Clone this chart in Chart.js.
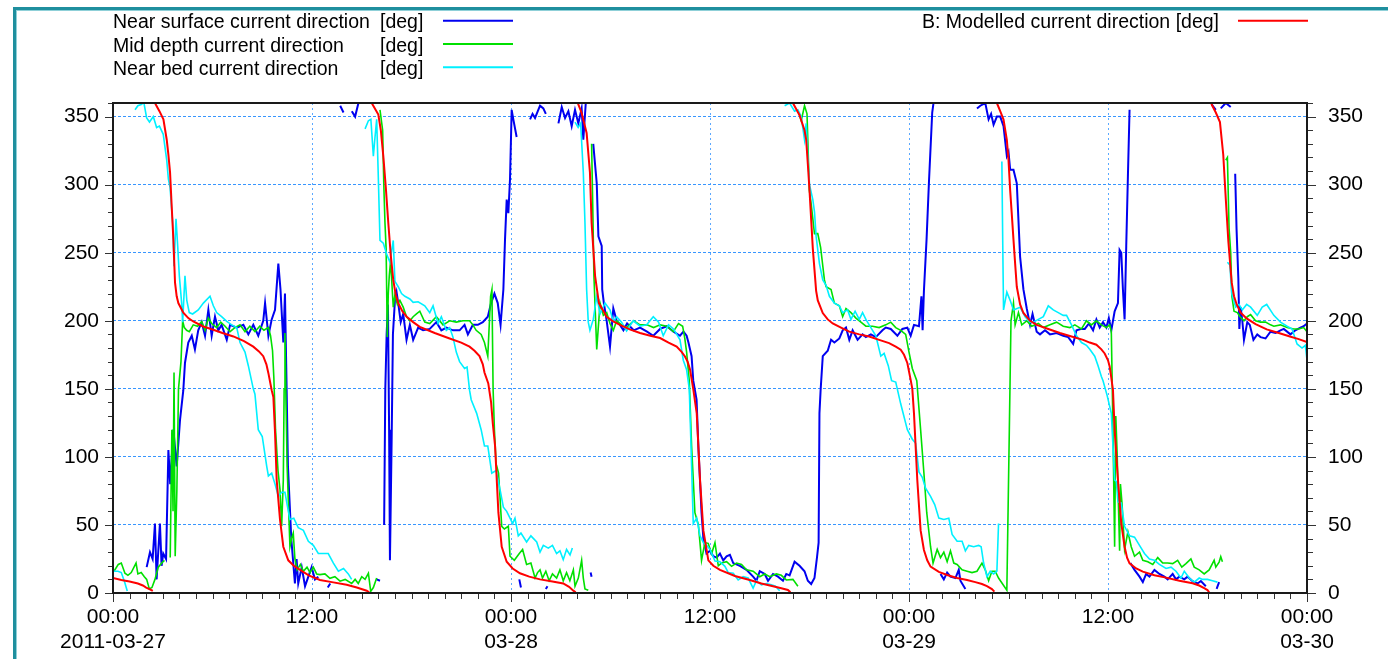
<!DOCTYPE html>
<html>
<head>
<meta charset="utf-8">
<script src="https://cdn.jsdelivr.net/npm/chart.js@4.4.1/dist/chart.umd.min.js"></script>
<style>
	html, body { margin:0; padding:0; background:#fff; }
	#wrap { position:relative; width:1388px; height:659px; overflow:hidden; }
</style>
</head>
<body>
<div id="wrap"><canvas id="chart" width="1388" height="659"></canvas></div>
<script>
// hours since 2011-03-27 00:00, value in degrees; null = break in the line
const surface = [
	[2.03,19],[2.23,30],[2.39,25],[2.53,51],[2.63,10],[2.83,51],[2.93,20],[3.03,29],[3.2,25],[3.34,105],[3.45,80],[3.64,120],[3.84,93],[4.04,127],[4.24,149],[4.34,169],[4.54,184],[4.75,189],[4.94,179],[5.14,193],[5.35,199],[5.55,189],[5.75,208],[5.95,189],[6.15,203],[6.35,193],[6.55,197],[6.86,186],[7.06,197],[7.46,195],[7.86,197],[8.16,190],[8.46,197],[8.76,189],[9.06,200],[9.17,213],[9.37,189],[9.57,201],[9.77,208],[9.97,242],[10.1,223],[10.27,184],[10.37,220],[10.42,184],[10.47,150],[10.55,93],[10.75,40],[10.97,7],[11.07,25],[11.17,7],[11.38,19],[11.58,5],[11.78,12],[11.98,19],[12.18,10],[12.38,12],
	null,[12.95,4],[13.1,7],null,[13.7,358],[13.9,353],null,[14.4,354],[14.6,350],[14.8,360],null,[15.9,10],[16.1,9],
	null,[16.35,50],[16.42,150],[16.5,190],[16.58,212],[16.65,120],[16.7,24],[16.8,110],[16.88,190],[17.0,215],[17.1,221],[17.2,213],[17.35,199],[17.5,205],[17.7,186],[17.9,197],[18.1,186],[18.4,195],[18.7,193],[19.1,194],[19.5,199],[19.8,193],[20.1,195],[20.5,193],[20.9,193],[21.2,197],[21.4,190],[21.7,197],[22.0,197],[22.3,199],[22.6,203],[22.8,213],[23.0,220],[23.2,213],[23.37,197],[23.54,223],[23.64,260],[23.74,289],[23.84,279],[23.94,304],[24.04,355],[24.14,348],[24.34,335],
	null,[24.5,10],[24.6,4],null,[25.15,348],[25.3,352],[25.45,349],[25.75,358],[25.95,356],[26.1,352],null,[26.1,3],[26.2,5],null,[26.86,345],[27.06,357],[27.26,349],[27.46,354],[27.66,343],[27.86,355],[28.06,345],[28.26,356],[28.36,333],[28.52,362],
	null,[28.8,15],[28.86,12],null,[28.96,330],[29.17,301],[29.27,262],[29.47,255],[29.5,223],[29.6,213],[29.77,200],[29.97,181],[30.17,209],[30.37,200],[30.57,197],[30.78,193],[31.0,198],[31.4,193],[31.78,195],[32.2,192],[32.58,189],[32.99,194],[33.4,196],[33.8,192],[34.19,189],[34.4,192],[34.59,189],[34.7,184],[34.89,174],[34.99,156],[35.19,142],[35.3,107],[35.49,59],[35.6,40],[35.79,29],[36.0,31],[36.2,27],[36.4,26],[36.6,29],[36.8,24],[37.0,27],[37.2,28],[37.4,22],[37.8,20],[38.2,17],[38.6,12],[38.8,9],[39.0,16],[39.3,14],[39.5,9],[39.8,14],[40.1,12],[40.4,9],[40.6,14],[40.8,13],[41.1,23],[41.4,20],[41.7,16],[41.9,9],[42.1,6.6],[42.3,11],[42.45,26],[42.55,37],[42.6,132],[42.67,149],[42.8,174],[43.1,178],[43.3,186],[43.5,184],[43.8,187],[44.0,193],[44.2,195],[44.4,186],[44.6,193],[44.9,186],[45.2,190],[45.4,188],[45.7,190],[46.0,188],[46.4,193],[46.6,195],[46.9,194],[47.3,189],[47.6,194],[47.9,195],[48.1,189],[48.3,197],[48.6,196],[48.75,218],[48.82,193],[48.9,222],[49.06,260],[49.2,301],[49.4,353],[49.5,362],
	null,[49.9,14],[50.1,10],[50.3,15],[50.5,12],[50.8,11],[51.0,17],[51.1,9],[51.4,3],
	null,[52.1,356],[52.3,358],[52.6,360],[52.8,348],[52.95,352],[53.1,344],[53.3,350],[53.5,350],[53.7,343],[53.9,321],[54.0,324],[54.1,311],[54.3,311],[54.5,301],[54.7,247],[54.9,223],[55.1,209],[55.3,197],[55.45,205],[55.7,192],[55.9,190],[56.2,193],[56.5,190],[56.9,191],[57.3,189],[57.6,188],[57.9,183],[58.1,193],[58.35,194],[58.6,194],[58.85,198],[59.1,193],[59.3,201],[59.5,195],[59.7,199],[59.9,195],[60.05,202],[60.2,193],[60.4,207],[60.6,213],[60.7,252],[60.8,250],[60.9,223],[61.0,201],[61.1,255],[61.2,306],[61.3,355],
	null,[61.35,22],[61.4,21],[61.6,17],[61.9,12],[62.1,8],[62.3,14],[62.5,12],[62.8,17],[63.1,14],[63.4,12],[63.6,10],[63.9,14],[64.1,10],[64.3,12],[64.6,10],[64.8,12],[65.1,8.7],[65.4,7],[65.6,8.7],[65.9,5],
	null,[66.25,359],[66.5,355],null,[66.55,3],[66.7,8],null,[66.8,356],[67.1,360],[67.4,357],
	null,[67.67,308],[67.75,268],[67.86,231],[67.92,194],[68.0,210],[68.1,200],[68.2,186],[68.4,199],[68.55,197],[68.77,186],[69.0,190],[69.2,188],[69.5,187],[69.8,192],[70.1,191],[70.4,193],[70.6,194],[71.0,190],[71.3,193],[71.6,195],[71.8,196],[72,198]
];

const midDepth = [
	[0.06,16],[0.32,21],[0.5,22],[0.72,14.5],[0.9,13],[1.1,15],[1.39,22],[1.5,14],[1.7,15],[1.89,12],[2.03,10],[2.19,3],[2.35,4],[2.53,10],[2.73,19],[2.94,22],[3.1,24],
	null,[3.45,26],[3.55,120],[3.62,60],[3.68,162],[3.75,27],[3.85,75],[3.95,150],[4.1,170],[4.2,200],[4.3,195],[4.44,193],[4.6,192],[4.84,197],[5.1,196],[5.35,199.5],[5.55,193],[5.75,202],[5.95,198],[6.25,195],[6.5,199],[6.76,196],[7.06,192],[7.35,195],[7.66,197],[7.96,192],[8.25,196],[8.56,192],[8.85,196],[9.1,193],[9.37,195],[9.5,189],[9.62,178],[9.7,158],[9.8,120],[9.95,90],[10.07,76],[10.17,49],[10.27,83],[10.32,150],[10.37,191],[10.42,150],[10.5,93],[10.67,34],[10.77,40],[10.87,44],[10.97,25],[11.1,17],[11.3,21],[11.48,16],[11.7,19],[11.88,15],[12.08,19],[12.28,14],[12.48,13.5],[12.78,14],[13.08,10.8],[13.38,12],[13.69,8.7],[14.0,10],[14.39,7],[14.6,10],[14.79,7],[15.0,12],[15.2,10],[15.4,14.5],[15.54,1.2],[15.7,4],[15.9,11],
	null,[16.1,355],[16.26,340],[16.33,300],[16.4,272],[16.47,253],[16.54,188],[16.6,220],[16.66,233],[16.74,244],[16.9,210],[17.0,219],[17.15,212],[17.3,215],[17.5,210],[17.7,203],[17.9,200],[18.1,203],[18.3,205],[18.5,207],[18.8,199],[19.1,198],[19.5,203],[19.9,197],[20.3,200],[20.7,199],[21.1,200],[21.5,200],[21.7,197],[21.9,193],[22.2,190],[22.4,184],[22.6,174],[22.77,218],[22.85,223],[22.92,150],[23.0,120],[23.1,95],[23.25,88],[23.44,49],[23.6,47],[23.84,49],[23.94,27],[24.2,24],[24.5,29],[24.7,32],[24.94,21],[25.2,22],[25.45,11],[25.6,15],[25.75,17],[25.9,11],[26.1,16],[26.3,9],[26.5,14],[26.75,11],[26.95,17],[27.15,9],[27.35,15],[27.55,9],[27.76,17],[27.86,5],[28.06,11],[28.26,24],[28.36,11],[28.46,3],[28.66,2],
	null,[28.86,330],[28.93,284],[29.0,233],[29.17,179],[29.37,213],[29.57,204],[29.77,206],[29.97,198],[30.17,193],[30.37,200],[30.67,197],[30.97,195],[31.4,200],[31.78,197],[32.2,197],[32.6,195],[32.99,197],[33.4,196],[33.79,192],[34.1,198],[34.35,196],[34.48,187],[34.59,177],[34.75,156],[34.89,108],[35.09,59],[35.3,50],[35.49,24],[35.69,37],[35.89,36.5],[36.1,29],[36.3,37],[36.5,20],[36.7,22],[37.0,23],[37.3,19.6],[37.6,22],[37.9,21],[38.2,17],[38.6,16],[39.0,12],[39.3,14],[39.6,12],[40.0,14],[40.3,13],[40.6,9.6],[41.0,10],[41.3,5],
	null,[41.35,353],[41.5,347],[41.7,358],[41.85,352],[41.99,296],[42.1,286],[42.3,264],[42.5,264],[42.67,254],[42.9,230],[43.0,225],[43.3,223],[43.5,213],[43.8,211],[44.0,203],[44.2,209],[44.5,206],[44.8,202],[45.1,199],[45.4,196],[45.8,196],[46.2,195],[46.6,197],[46.9,199],[47.2,195],[47.5,193],[47.8,190],[48.0,177],[48.2,165],[48.47,156],[48.7,120],[48.9,88],[49.07,59],[49.3,34],[49.45,22],[49.7,32],[49.9,26],[50.1,30],[50.3,23],[50.5,31],[50.7,22],[50.9,21],[51.2,17],[51.5,16],[51.8,15],[52.1,16],[52.4,22],[52.6,17],[52.8,9],[53.0,16],[53.2,16],[53.4,11],[53.9,2],[54.05,120],[54.15,200],[54.3,213],[54.4,197],[54.6,206],[54.8,197],[55.1,200],[55.4,196],[55.8,198],[56.1,195],[56.5,197],[56.9,199],[57.3,196],[57.7,195],[58.0,197],[58.4,194],[58.7,200],[59.0,197],[59.3,200],[59.6,197],[59.9,195],[60.1,197],[60.2,192],[60.3,120],[60.4,34],[60.47,130],[60.55,103],[60.7,31],[60.75,80],[60.85,65],[61.0,32],[61.2,45],[61.4,34],[61.6,27],[61.9,30],[62.1,24],[62.4,23],[62.7,21],[63.0,26],[63.3,22],[63.6,22],[63.9,21.6],[64.2,24],[64.45,19],[64.7,21.6],[65.0,25],[65.2,19],[65.5,17],[65.8,14],[66.1,17],[66.4,24],[66.5,19],[66.7,22.7],[66.8,26.7],[66.9,23],
	null,[67.1,318],[67.2,320],[67.3,268],[67.4,250],[67.47,218],[67.6,207],[67.8,206],[67.96,203],[68.2,200],[68.4,203],[68.6,204.5],[68.9,200],[69.2,199],[69.5,199],[69.8,197],[70.0,196],[70.4,197],[70.8,195],[71.2,194],[71.5,194],[71.8,195],[72,192]
];

const nearBed = [
	[0.06,16],[0.3,16],[0.5,15],[0.7,8],[0.86,1.5],
	null,[1.33,355],[1.5,358],[1.73,359],[1.85,361],[2.03,349],[2.2,346],[2.43,350],[2.63,342],[2.8,343],[3.03,337],[3.24,318],[3.34,304],[3.44,298],[3.6,272],[3.68,240],[3.8,275],[3.9,255],[4.0,233],[4.14,213],[4.2,199],[4.34,233],[4.45,215],[4.6,206],[4.8,205],[5.14,208],[5.45,213],[5.85,218],[6.05,211],[6.25,206],[6.55,203],[6.86,199.5],[7.16,197],[7.46,195],[7.66,184],[7.96,177],[8.16,167],[8.46,150],[8.56,146],[8.76,120],[9.0,115],[9.27,93],[9.37,86],[9.57,88],[9.77,80],[9.97,71],[10.17,74],[10.37,74],[10.5,65],[10.67,54],[10.9,55],[11.17,48],[11.48,46],[11.78,38],[12.08,35],[12.38,29],[12.68,29],[12.98,29],[13.29,22],[13.59,16],[13.9,18],[14.19,14],[14.39,10],
	null,[15.2,341],[15.4,347],[15.55,348],[15.7,321],[15.8,335],[15.9,348],[16.0,305],[16.1,259],[16.3,257],[16.5,249],[16.7,243],[16.9,259],[17.0,229],[17.2,225],[17.4,220],[17.6,218],[17.9,216],[18.1,213.5],[18.4,214],[18.8,211],[19.1,206],[19.3,211],[19.6,198],[19.8,203],[20.1,193],[20.3,195],[20.5,188],[20.7,177],[20.9,170],[21.2,165],[21.35,166],[21.5,149],[21.6,142],[21.93,132],[22.2,120],[22.4,108],[22.6,108],[22.84,88],[23.1,90],[23.34,76],[23.54,63],[23.74,60],[23.94,55],[24.1,51],[24.24,55],[24.44,42],[24.6,44],[24.94,37.5],[25.2,42],[25.55,37.5],[25.75,30],[25.95,35],[26.25,33],[26.5,35],[26.75,29],[26.95,31],[27.15,24.5],[27.35,32],[27.56,28],[27.7,33],
	null,[27.86,346],[28.05,342],[28.2,345],[28.36,309],[28.46,272],[28.56,223],[28.66,199],[28.76,193],[28.96,201],[29.17,218],[29.37,205],[29.67,213],[29.97,208],[30.17,199.5],[30.37,203],[30.67,199],[30.97,192.5],[31.37,200],[31.78,196],[32.18,197],[32.58,203],[32.9,199],[33.18,189],[33.5,197],[33.8,194],[34.19,186],[34.39,171],[34.59,164],[34.75,150],[34.85,110],[34.99,51],[35.2,55],[35.4,42],[35.6,37],[35.8,35],[36.0,32],[36.3,23.5],[36.6,23],[36.9,19.6],[37.1,15],[37.4,14.5],[37.7,9.6],[38.0,12],[38.3,11],[38.6,3.6],[38.8,9],[39.1,6],[39.4,7],[39.7,6],[39.95,5],[40.2,1.7],
	null,[40.5,358],[40.8,360],[41.1,354],[41.3,355],[41.5,350],[41.7,333],[41.8,345],[41.9,321],[42.0,300],[42.2,289],[42.3,280],[42.4,262],[42.6,242],[42.8,230],[43.0,226],[43.2,218],[43.5,213],[43.8,211],[44.0,206],[44.3,208],[44.5,201],[44.75,207],[45.0,201],[45.2,206],[45.4,201],[45.7,195],[46.0,189],[46.3,174],[46.5,176],[46.75,167],[46.95,156],[47.2,155],[47.5,139],[47.9,120],[48.2,113],[48.4,110],[48.6,89],[48.8,85],[49.0,77],[49.3,71],[49.55,65],[49.8,55],[50.1,54],[50.4,55],[50.6,43],[50.9,38],[51.2,38],[51.4,31],[51.6,35],[51.9,34],[52.2,35],[52.35,34],[52.5,22],[52.7,12],[52.9,16],[53.1,14],[53.3,16],[53.4,51],
	null,[53.6,317],[53.65,260],[53.7,208],[53.9,221],[54.1,215],[54.3,208],[54.7,210],[55.0,203],[55.3,199],[55.5,199],[55.8,201],[56.1,203],[56.4,211],[56.7,208],[57.0,206],[57.3,204],[57.5,204],[57.8,197],[58.1,189],[58.4,184],[58.7,182],[58.9,179],[59.2,174],[59.4,167],[59.6,159],[59.7,156],[59.95,145],[60.2,132],[60.4,83],[60.5,82],[60.6,67],[60.8,66],[61.0,49],[61.3,42],[61.6,41],[61.9,35],[62.2,29],[62.5,25],[62.8,24],[63.1,21],[63.5,18],[63.8,19],[64.1,16],[64.4,11],[64.6,16],[64.9,11],[65.2,8],[65.5,11],[65.7,10],[66.0,10],[66.3,9],[66.6,8],
	null,[67.2,243],[67.35,241],[67.46,220],[67.7,210],[67.9,212],[68.1,208],[68.36,212],[68.6,210],[69.0,204],[69.3,210],[69.57,212],[70.0,204],[70.4,199],[70.8,196],[71.1,194],[71.4,183],[71.7,180],[71.9,182],[72,171]
];

const modelled = [
	[0,11],[0.5,9.5],[1.0,8.5],[1.5,7],[1.8,5.5],[2.0,4],[2.23,2.7],[2.4,1.5],
	null,[2.5,362],[2.53,360],[2.8,354],[3.04,348],[3.24,333],[3.34,322],[3.44,309],[3.54,284],[3.64,260],[3.74,228],[3.84,218],[3.94,213],[4.24,206],[4.54,202],[4.84,199.5],[5.4,196],[6.05,193.4],[6.6,191],[7.26,188.5],[7.9,185],[8.46,181],[8.8,177.5],[9.06,174],[9.25,168],[9.37,161.5],[9.57,149],[9.67,144],[9.77,118],[9.87,83],[10.07,54],[10.27,34],[10.57,24],[10.9,20],[11.28,17],[11.8,13],[12.48,9.6],[13.2,8],[14.09,6],[14.7,4],[15.3,1.7],[15.45,0.5],
	null,[15.5,362],[15.6,360],[16.0,351.5],[16.15,340],[16.3,321],[16.45,298],[16.6,272],[16.75,248],[16.9,230],[17.05,219],[17.2,213],[17.45,207],[17.71,203],[18.1,199],[18.5,195.5],[19.4,191],[20.3,187],[21.0,184],[21.5,181],[21.8,178],[22.1,174],[22.3,168],[22.4,162],[22.63,154],[22.8,140],[22.9,125],[23.04,108],[23.24,59],[23.44,34],[23.74,23],[24.1,18],[24.54,14.5],[25.1,12],[25.75,10],[26.5,8.5],[27.15,7],[27.5,4.5],[27.76,1.7],[27.9,0.5],
	null,[27.93,362],[28.06,359],[28.26,352.7],[28.56,338],[28.76,309],[28.86,272],[29.07,233],[29.3,213],[29.77,203],[30.17,199.5],[30.57,197],[31.2,193.5],[31.78,191],[32.4,189],[32.99,187.3],[33.5,184],[33.99,181],[34.3,177],[34.49,173.8],[34.65,170],[34.8,164],[35.0,149],[35.2,132],[35.4,83],[35.6,46],[35.9,24],[36.2,20],[36.6,17],[37.5,12.5],[38.4,9.6],[39.1,7],[39.8,5],[40.3,3.5],[40.7,2.2],[40.85,0.5],
	null,[40.9,362],[41.0,360],[41.4,351],[41.7,340],[41.8,333],[41.9,315],[42.0,296],[42.2,253],[42.4,222],[42.5,215],[42.8,205.7],[43.1,201],[43.4,198],[43.9,195],[44.4,192],[45.0,190],[45.6,188.5],[46.2,186],[46.8,183.6],[47.2,181],[47.5,178.7],[47.7,175],[47.9,169],[48.1,156.6],[48.2,150],[48.3,132],[48.5,83],[48.7,46],[48.9,31.6],[49.1,24],[49.3,19.4],[49.8,15.5],[50.3,13.2],[50.9,11],[51.5,9.6],[52.0,8],[52.4,6.6],[52.7,5],[53.0,2.9],[53.15,1],
	null,[53.2,362],[53.3,360],[53.5,354],[53.7,347.8],[53.9,333],[54.0,318],[54.1,296],[54.2,278],[54.3,259.6],[54.4,242],[54.5,225],[54.7,212],[54.9,205.7],[55.3,200],[55.7,197],[56.4,194],[57.1,191],[57.8,188.5],[58.5,186],[58.9,184],[59.3,182.4],[59.6,179],[59.8,176],[60.0,171],[60.1,166.4],[60.2,158],[60.3,149],[60.4,120],[60.6,83],[60.8,51.4],[61.0,34],[61.15,26],[61.3,21.8],[61.7,18],[62.1,15.7],[62.8,13],[63.5,11.3],[64.3,9],[65.1,7.1],[65.5,5.5],[65.8,3.5],[66.0,2.2],[66.1,0.5],
	null,[66.2,362],[66.25,359],[66.5,353],[66.75,346],[66.95,322],[67.1,290],[67.26,258],[67.46,228],[67.6,218],[67.76,212],[68.0,206],[68.36,201.7],[68.9,197.5],[69.57,193.7],[70.3,191],[70.97,188.4],[71.5,186.5],[72,184.3]
];

const seriesNames = ['Near surface current direction', 'Mid depth current direction', 'Near bed current direction', 'B: Modelled current direction'];
const seriesUnit = '[deg]';
const seriesColors = ['#0000f0', '#00e000', '#00f0ff', '#ff0000'];

const tickHours = [0, 12, 24, 36, 48, 60, 72];
const tickTimes = ['00:00', '12:00', '00:00', '12:00', '00:00', '12:00', '00:00'];
const tickDates = ['2011-03-27', '', '03-28', '', '03-29', '', '03-30'];
const yLabelStep = 50;

const FONT = '"Liberation Sans", Arial, sans-serif';

const toPoints = (list) => list.map((p, i) => p ? { x: p[0], y: p[1] } : { x: list[i - 1][0], y: null });

// frame, legend, tick marks and the plot border
const decor = {
	id: 'decor',
	beforeDraw(chart) {
		const ctx = chart.ctx;
		ctx.save();
		ctx.fillStyle = '#fff';
		ctx.fillRect(0, 0, chart.width, chart.height);
		ctx.fillStyle = '#1f8f9e';
		ctx.fillRect(13, 7, chart.width - 13, 3);
		ctx.fillRect(13, 7, 3, chart.height - 7);
		ctx.fillStyle = '#8fd0d8';
		ctx.fillRect(16, 10, chart.width - 16, 1);
		ctx.fillRect(16, 10, 1, chart.height - 10);
		ctx.restore();
	},
	afterDraw(chart) {
		const ctx = chart.ctx;
		const a = chart.chartArea;
		const xs = chart.scales.x, ys = chart.scales.y;
		ctx.save();
		// tick marks
		ctx.strokeStyle = '#333';
		ctx.lineWidth = 1;
		ctx.beginPath();
		for (let v = 0; v <= 360; v += 10) {
			const py = Math.round(ys.getPixelForValue(v)) + 0.5;
			const big = v % yLabelStep === 0;
			ctx.moveTo(a.left - (big ? 8 : 5), py); ctx.lineTo(a.left, py);
			ctx.moveTo(a.right, py); ctx.lineTo(a.right + (big ? 9 : 6), py);
		}
		for (let h = 0; h <= 72; h++) {
			const px = Math.round(xs.getPixelForValue(h)) + 0.5;
			const big = tickHours.includes(h);
			ctx.moveTo(px, a.bottom); ctx.lineTo(px, a.bottom + (big ? 9 : 6));
		}
		ctx.stroke();
		// plot border
		ctx.strokeStyle = '#1a1a1a';
		ctx.lineWidth = 2;
		ctx.strokeRect(a.left, a.top, a.right - a.left, a.bottom - a.top);
		// legend
		ctx.font = '19.5px ' + FONT;
		ctx.fillStyle = '#000';
		ctx.textBaseline = 'alphabetic';
		chart.data.datasets.forEach((ds, i) => {
			ctx.strokeStyle = ds.borderColor;
			ctx.lineWidth = 2;
			if (i < 3) {
				const y = 20.7 + i * 23.3;
				ctx.textAlign = 'left';
				ctx.fillText(seriesNames[i], 113, y + 7.6);
				ctx.fillText(seriesUnit, 380, y + 7.6);
				ctx.beginPath(); ctx.moveTo(443, y); ctx.lineTo(513, y); ctx.stroke();
			} else {
				const y = 20.7;
				ctx.textAlign = 'right';
				ctx.fillText(seriesNames[i] + ' ' + seriesUnit, 1219, y + 7.6);
				ctx.beginPath(); ctx.moveTo(1238, y); ctx.lineTo(1308, y); ctx.stroke();
			}
		});
		ctx.restore();
	}
};

const yTicks = (pad) => ({
	stepSize: 10,
	autoSkip: false,
	padding: pad,
	color: '#000',
	font: { family: FONT, size: 21 },
	callback: (v) => v % yLabelStep === 0 && v < 360 ? String(v) : ''
});

new Chart(document.getElementById('chart'), {
	type: 'line',
	data: {
		datasets: [surface, midDepth, nearBed, modelled].map((d, i) => ({
			label: seriesNames[i] + ' ' + seriesUnit,
			data: toPoints(d),
			borderColor: seriesColors[i],
			borderWidth: i === 0 || i === 3 ? 2 : 1.6,
			pointRadius: 0,
			tension: 0,
			spanGaps: false,
			order: 4 - i
		}))
	},
	options: {
		responsive: false,
		animation: false,
		devicePixelRatio: 1,
		layout: { padding: { top: 103, left: 0, right: 0, bottom: 0 } },
		plugins: { legend: { display: false }, tooltip: { enabled: false } },
		scales: {
			x: {
				type: 'linear', min: 0, max: 72,
				afterFit: (s) => { s.height = 66; },
				grid: {
					drawTicks: false, lineWidth: 1,
					color: (c) => c.tick && c.tick.value % 12 === 0 && c.tick.value > 0 && c.tick.value < 72 ? '#5aa8ff' : 'rgba(0,0,0,0)'
				},
				border: { display: false, dash: [2, 3] },
				ticks: {
					stepSize: 1, autoSkip: false, maxRotation: 0, minRotation: 0, padding: 12,
					color: '#000', font: { family: FONT, size: 21, lineHeight: 1.17 },
					callback: (v) => {
						const i = tickHours.indexOf(v);
						if (i < 0) return '';
						return tickDates[i] ? [tickTimes[i], tickDates[i]] : tickTimes[i];
					}
				}
			},
			y: {
				type: 'linear', position: 'left', min: 0, max: 360,
				afterFit: (s) => { s.width = 113; },
				grid: {
					drawTicks: false, lineWidth: 1,
					color: (c) => c.tick && c.tick.value % yLabelStep === 0 && c.tick.value > 0 && c.tick.value < 360 ? '#3896ff' : 'rgba(0,0,0,0)'
				},
				border: { display: false, dash: [3, 2] },
				ticks: yTicks(14)
			},
			y2: {
				type: 'linear', position: 'right', min: 0, max: 360,
				afterFit: (s) => { s.width = 81; },
				grid: { display: false, drawTicks: false },
				border: { display: false },
				ticks: yTicks(21)
			}
		}
	},
	plugins: [decor]
});
</script>
</body>
</html>
